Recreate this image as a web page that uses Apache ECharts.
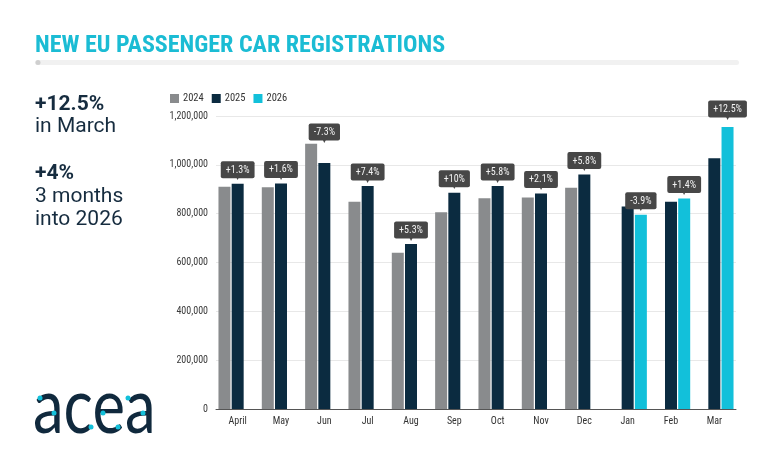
<!DOCTYPE html>
<html>
<head>
<meta charset="utf-8">
<script src="https://cdn.jsdelivr.net/npm/echarts@6/dist/echarts.min.js"></script>
<style>
  html, body { margin: 0; padding: 0; background: #fff; }
  #chart { width: 780px; height: 470px; }
</style>
</head>
<body>
<div id="chart"></div>
<script>
var months = ['April', 'May', 'Jun', 'Jul', 'Aug', 'Sep', 'Oct', 'Nov', 'Dec', 'Jan', 'Feb', 'Mar'];
var y2024 = [910000, 908000, 1086000, 849000, 640000, 806000, 863000, 866000, 906000, null, null, null];
var y2025 = [923000, 924000, 1007000, 913000, 676000, 886000, 913000, 883000, 960000, 829000, 849000, 1027000];
var y2026 = [null, null, null, null, null, null, null, null, null, 796000, 862000, 1155000];
var growth = ['+1.3%', '+1.6%', '-7.3%', '+7.4%', '+5.3%', '+10%', '+5.8%', '+2.1%', '+5.8%', '-3.9%', '+1.4%', '+12.5%'];
var seriesNames = ['2024', '2025', '2026'];

var navy = '#0b2b40';
var grey = '#898b8d';
var cyan = '#12c0da';
var narrow = '"Liberation Sans Narrow", "Roboto Condensed", "DejaVu Sans Condensed", sans-serif';

var chart = echarts.init(document.getElementById('chart'), null, { renderer: 'canvas' });

// callout bubble over the latest year's bar
var bubble = {
    show: true,
    position: 'top',
    distance: 4,
    formatter: function (p) {
        return '{b|' + growth[p.dataIndex] + '}\n{a|▼}';
    },
    rich: {
        b: {
            backgroundColor: '#474747',
            color: '#f2f2f2',
            borderRadius: 2,
            padding: [4, 5, 3, 5],
            fontSize: 10,
            lineHeight: 10,
            fontFamily: narrow
        },
        a: { color: '#474747', fontSize: 8, lineHeight: 5, fontFamily: 'DejaVu Sans' }
    }
};

function withBubble(values, from, to) {
    return values.map(function (v, i) {
        if (v == null || i < from || i > to) return v;
        var lbl = Object.assign({}, bubble);
        // June: the 2024 bar is taller, lift the callout above it
        if (y2024[i] != null && y2024[i] > v) lbl.offset = [0, -17];
        if (i === 11) lbl.offset = [0, -4];
        return { value: v, label: lbl };
    });
}

var option = {
    animation: false,
    backgroundColor: '#fff',
    textStyle: { fontFamily: narrow },
    legend: {
        left: 165,
        top: 88,
        icon: 'rect',
        itemWidth: 9,
        itemHeight: 9,
        itemGap: 8,
        textStyle: { color: '#333', fontSize: 10.5, fontFamily: narrow, padding: [0, 0, 0, -1] },
        data: seriesNames
    },
    grid: { left: 216, right: 44, top: 116, bottom: 61 },
    xAxis: {
        type: 'category',
        data: months,
        axisLine: { lineStyle: { color: '#555', width: 1 } },
        axisTick: { show: false },
        axisLabel: { color: '#333', fontSize: 10, margin: 7, fontFamily: narrow }
    },
    yAxis: {
        type: 'value',
        min: 0,
        max: 1200000,
        interval: 200000,
        axisLabel: {
            color: '#3a3a3a',
            fontSize: 10,
            margin: 8,
            fontFamily: narrow,
            formatter: function (v) { return v.toLocaleString('en-US'); }
        },
        splitLine: { lineStyle: { color: '#e8e8e8' } }
    },
    series: [
        { name: '2024', type: 'bar', barWidth: 12, barGap: '10%', itemStyle: { color: grey }, data: y2024 },
        { name: '2025', type: 'bar', barWidth: 12, barGap: '10%', itemStyle: { color: navy }, data: withBubble(y2025, 0, 8) },
        { name: '2026', type: 'bar', barWidth: 12, barGap: '10%', itemStyle: { color: cyan }, data: withBubble(y2026, 9, 11) }
    ],
    graphic: [
        {
            type: 'text', left: 35, top: 34,
            style: { text: 'NEW EU PASSENGER CAR REGISTRATIONS', fill: '#1bbcd4', font: 'bold 24px ' + narrow }
        },
        { type: 'rect', shape: { x: 35, y: 60, width: 704, height: 5, r: 2.5 }, style: { fill: '#f1f1f1' } },
        { type: 'circle', shape: { cx: 38, cy: 62.5, r: 2.5 }, style: { fill: '#cfcfcf' } },
        { type: 'text', style: { x: 35, y: 105, text: '+12.5%', fill: '#162c3f', font: 'bold 21px Roboto', verticalAlign: 'middle' } },
        { type: 'text', style: { x: 35, y: 127, text: 'in March', fill: '#162c3f', font: '21px Roboto', verticalAlign: 'middle' } },
        { type: 'text', style: { x: 35, y: 174, text: '+4%', fill: '#162c3f', font: 'bold 21px Roboto', verticalAlign: 'middle' } },
        { type: 'text', style: { x: 35, y: 197, text: '3 months', fill: '#162c3f', font: '21px Roboto', verticalAlign: 'middle' } },
        { type: 'text', style: { x: 35, y: 220, text: 'into 2026', fill: '#162c3f', font: '21px Roboto', verticalAlign: 'middle' } },
        {
            type: 'text', x: 33, y: 408, scaleX: 0.8,
            style: { x: 0, y: 0, text: 'acea', fill: '#10293d', font: '77px Lato', verticalAlign: 'middle' }
        },
        { type: 'circle', shape: { cx: 40, cy: 398, r: 2.5 }, style: { fill: cyan } },
        { type: 'circle', shape: { cx: 54, cy: 413, r: 2.5 }, style: { fill: cyan } },
        { type: 'circle', shape: { cx: 91, cy: 427, r: 2.5 }, style: { fill: cyan } },
        { type: 'circle', shape: { cx: 103, cy: 413, r: 2.5 }, style: { fill: cyan } },
        { type: 'circle', shape: { cx: 118, cy: 427, r: 2.5 }, style: { fill: cyan } },
        { type: 'circle', shape: { cx: 128, cy: 398, r: 2.5 }, style: { fill: cyan } },
        { type: 'circle', shape: { cx: 143, cy: 413, r: 2.5 }, style: { fill: cyan } }
    ]
};

chart.setOption(option);
</script>
</body>
</html>
